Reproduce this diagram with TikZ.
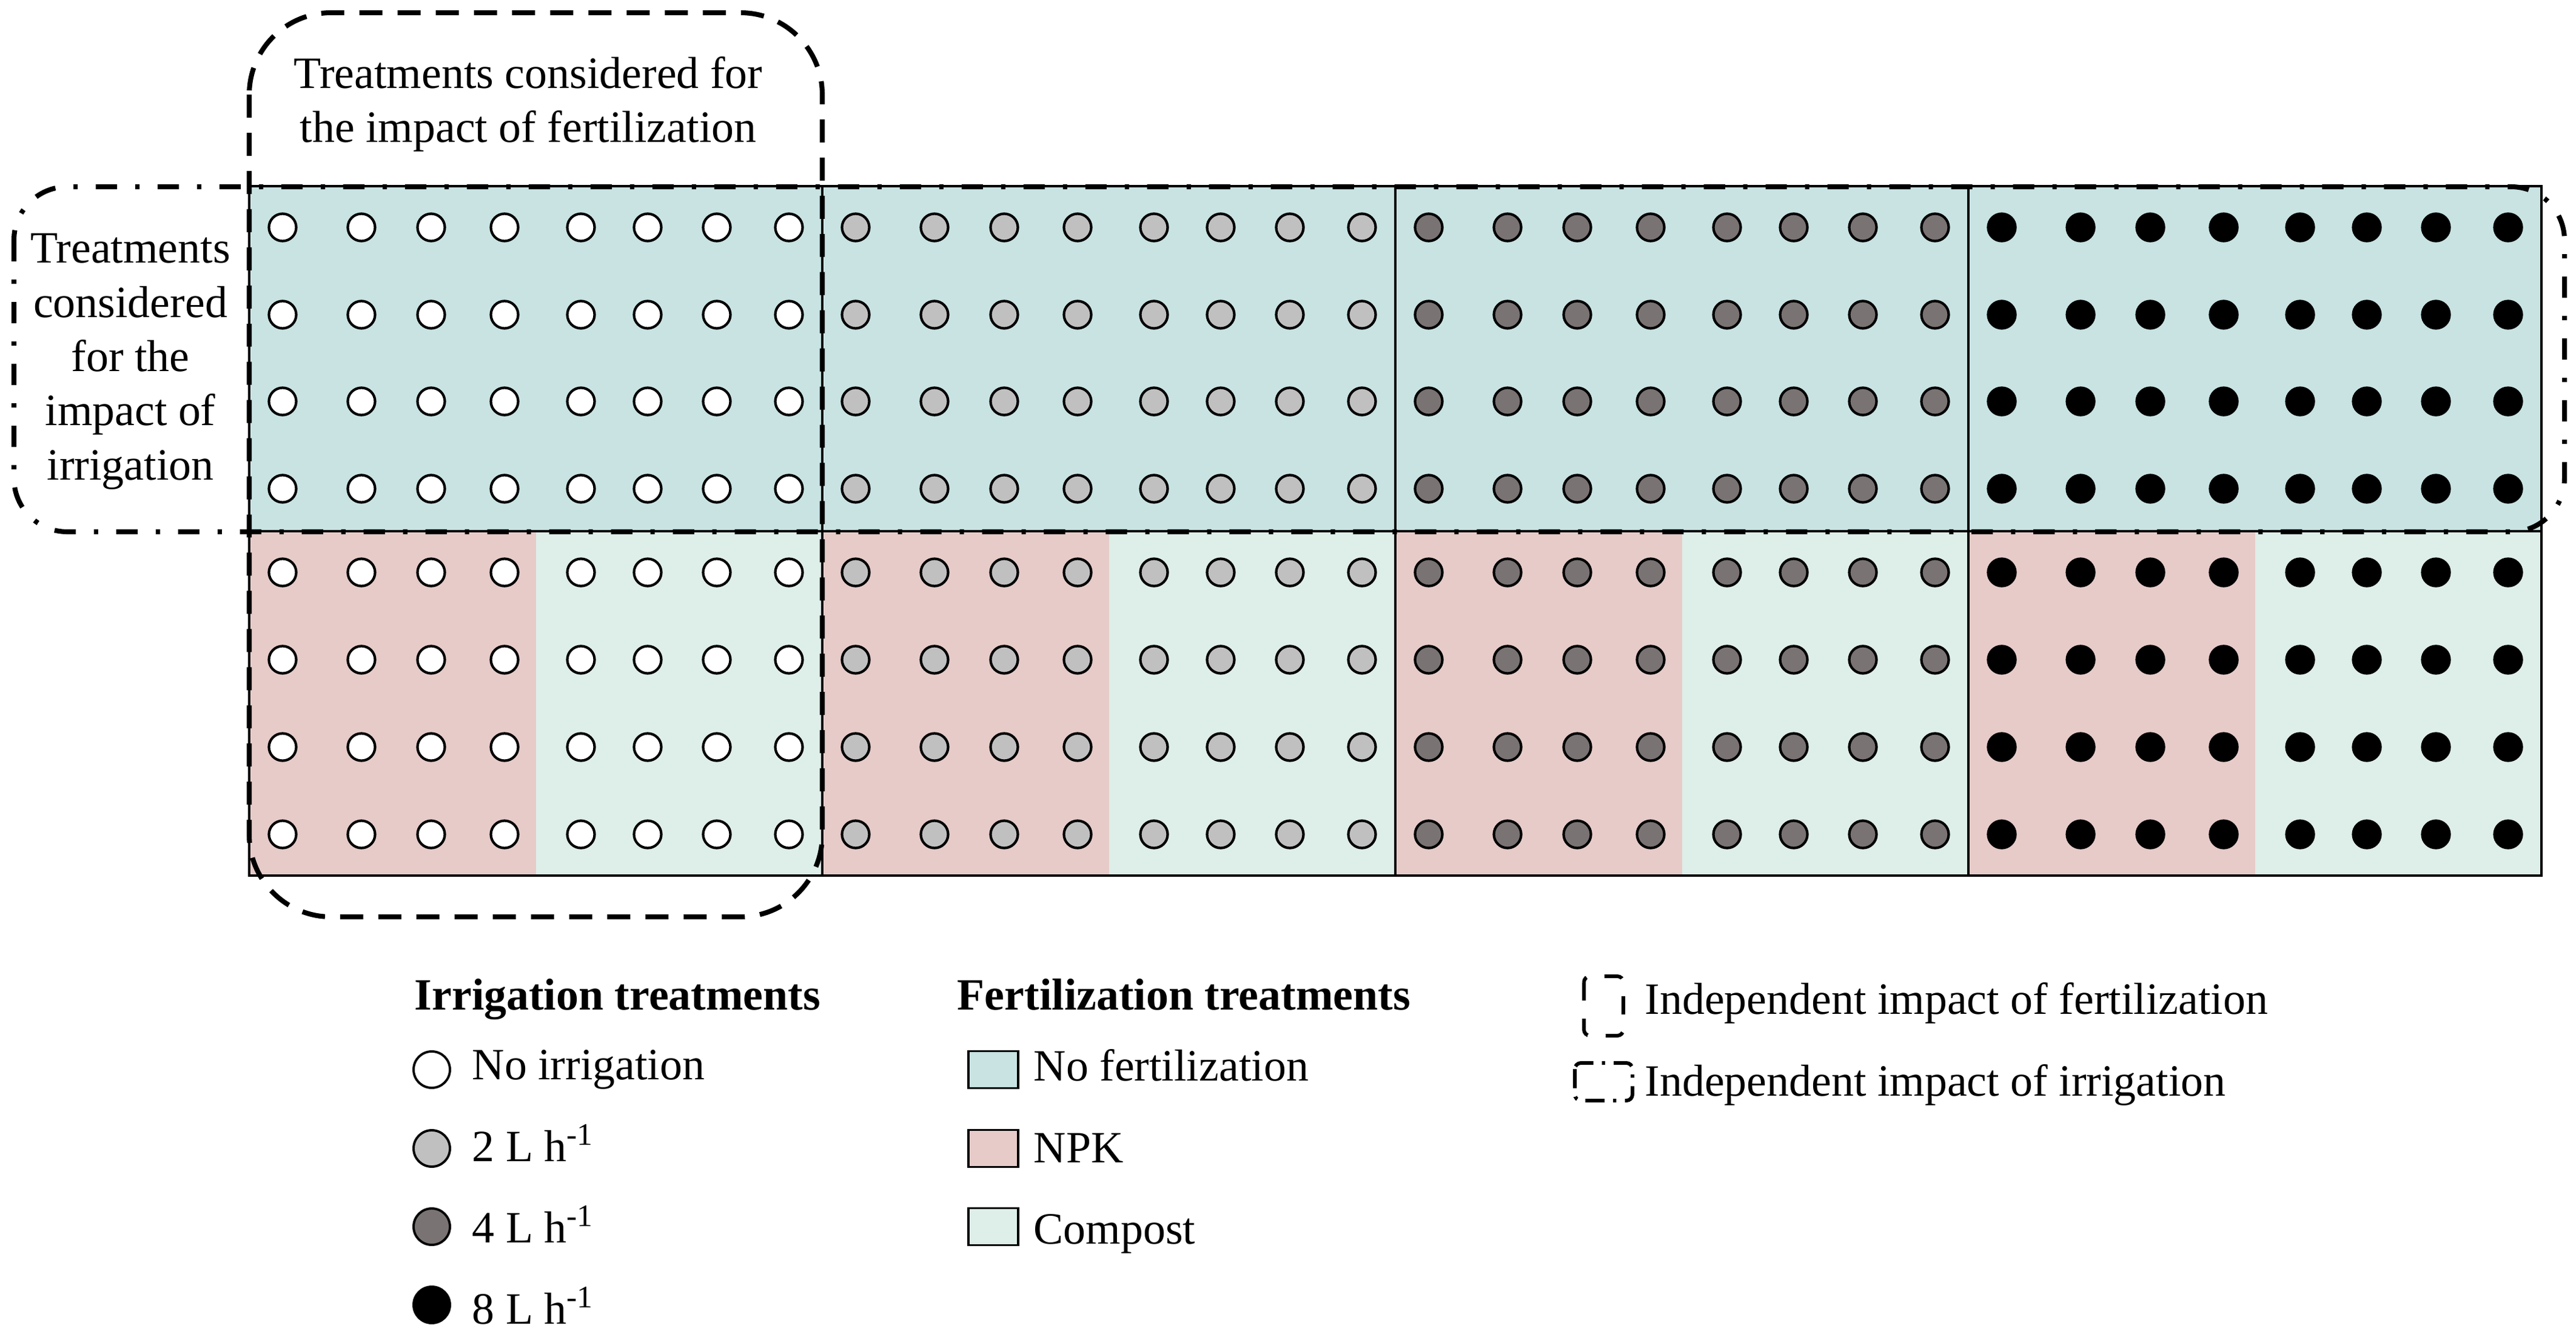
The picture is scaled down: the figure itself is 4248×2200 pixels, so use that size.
\documentclass[tikz,border=0pt]{standalone}
\usepackage{fontspec}
\setmainfont{Liberation Serif}
\usetikzlibrary{positioning}

\definecolor{nofert}{RGB}{201,227,227}
\definecolor{npk}{RGB}{230,203,200}
\definecolor{compost}{RGB}{222,238,233}
\definecolor{irrtwo}{RGB}{192,192,192}
\definecolor{irrfour}{RGB}{122,115,115}

\begin{document}
\begin{tikzpicture}[x=0.01cm, y=-0.01cm,
    every node/.style={font=\fontsize{21}{25.4}\selectfont, inner sep=0pt},
    gridline/.style={line width=1pt},
    plotdot/.style={draw, line width=1.2pt},
    fertbox/.style={line width=2.3pt, dash pattern=on 10.8pt off 7.1pt, rounded corners=1.35cm},
    irrbox/.style={line width=2.3pt, dash pattern=on 10pt off 8.5pt on 2pt off 8.5pt, rounded corners=0.88cm},
    legtext/.style={anchor=base west},
    keydot/.style={circle, draw, line width=1.1pt, minimum size=0.6cm},
    keybox/.style={draw, line width=1.1pt, minimum width=0.82cm, minimum height=0.61cm}]
   \useasboundingbox (0,0) rectangle (4248,2200);

   % plots: no fertilization above, NPK and compost below
   \foreach \b in {0,1,2,3} {
     \fill[nofert] (411+945*\b,307) rectangle (1356+945*\b,876);
     \fill[npk] (411+945*\b,876) rectangle (883.5+945*\b,1444);
     \fill[compost] (883.5+945*\b,876) rectangle (1356+945*\b,1444);
   }
   \draw[gridline] (411,307) rectangle (4191,1444);
   \draw[gridline] (411,876) -- (4191,876);
   \foreach \b in {1,2,3}
     \draw[gridline] (411+945*\b,307) -- (411+945*\b,1444);

   % drippers, one shade per irrigation rate
   \foreach \b/\c in {0/white,1/irrtwo,2/irrfour,3/black}
     \foreach \dx in {55,185,300,421,547,657,771,890}
       \foreach \y in {375,519,662,806,944,1088,1232,1376}
         \filldraw[plotdot, fill=\c] (411+945*\b+\dx,\y) circle[radius=0.225cm];

   % groups of treatments
   \draw[irrbox] (23,308) rectangle (4229,877);
   \draw[fertbox] (411,21) rectangle (1356,1512);
   \node[anchor=base, align=center] (fertnote) at (871,235)
      {Treatments considered for\\the impact of fertilization};
   \node[anchor=base, align=center] (irrnote) at (215,791)
      {Treatments\\considered\\for the\\impact of\\irrigation};

   % legend: irrigation
   \node[legtext] (irrtitle) at (683,1665) {\textbf{Irrigation treatments}};
   \node[keydot, fill=white] (noirrkey) at (712,1764) {};
   \node[keydot, fill=irrtwo] (twokey) at (712,1894) {};
   \node[keydot, fill=irrfour] (fourkey) at (712,2023) {};
   \node[keydot, fill=black] (eightkey) at (712,2152) {};
   \node[legtext] (noirr) at (778,1780) {No irrigation};
   \node[legtext] (two) at (778,1915) {2 L h\textsuperscript{-1}};
   \node[legtext] (four) at (778,2049) {4 L h\textsuperscript{-1}};
   \node[legtext] (eight) at (778,2183) {8 L h\textsuperscript{-1}};

   % legend: fertilization
   \node[legtext] (ferttitle) at (1578,1665) {\textbf{Fertilization treatments}};
   \node[keybox, fill=nofert] (nofertkey) at (1638,1764) {};
   \node[keybox, fill=npk] (npkkey) at (1638,1894) {};
   \node[keybox, fill=compost] (compostkey) at (1638,2023) {};
   \node[legtext] (nofertlab) at (1704,1782) {No fertilization};
   \node[legtext] (npklab) at (1704,1917) {NPK};
   \node[legtext] (compostlab) at (1704,2051) {Compost};

   % legend: groups
   \draw[line width=1.7pt, dash pattern=on 8.5pt off 8.5pt, rounded corners=0.1cm]
      (2612,1610) rectangle (2677,1708);
   \draw[line width=1.7pt, dash pattern=on 9pt off 4pt on 1.5pt off 4pt, rounded corners=0.1cm]
      (2597,1753) rectangle (2692,1815);
   \node[legtext] (fertgroup) at (2712,1672) {Independent impact of fertilization};
   \node[legtext] (irrgroup) at (2712,1807) {Independent impact of irrigation};
\end{tikzpicture}
\end{document}
